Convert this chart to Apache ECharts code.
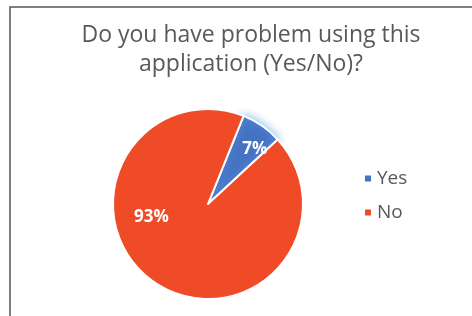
<!DOCTYPE html>
<html>
<head>
<meta charset="utf-8">
<script src="https://cdn.jsdelivr.net/npm/echarts@6/dist/echarts.min.js"></script>
<style>
  html, body { margin: 0; padding: 0; background: #fff; }
  #chart { width: 472px; height: 316px; }
</style>
</head>
<body>
<div id="chart"></div>
<script>
const titleText = 'Do you have problem using this\napplication (Yes/No)?'
const categories = ['Yes', 'No']
const values = [7, 93]
const colors = ['#4472C4', '#EF4B26']
// label nudges (Excel had the labels moved by hand)
const labelShift = [[18, -13], [-28, -28]]

const chart = echarts.init(document.getElementById('chart'))

const option = {
  backgroundColor: '#fff',
  title: {
    text: titleText,
    left: 246,
    top: 16,
    textAlign: 'center',
    textStyle: {
      fontFamily: 'Open Sans',
      fontWeight: 'normal',
      fontSize: 23,
      lineHeight: 29,
      color: '#595959'
    }
  },
  legend: {
    orient: 'vertical',
    left: 358,
    top: 164,
    itemWidth: 8,
    itemHeight: 8,
    itemGap: 15,
    icon: 'rect',
    data: categories,
    textStyle: {
      fontFamily: 'Open Sans',
      fontSize: 19,
      color: '#595959'
    }
  },
  graphic: [{
    type: 'rect',
    shape: { x: 10, y: 7, width: 500, height: 340 },
    style: { fill: 'none', stroke: '#555', lineWidth: 1.5 },
    silent: true
  }],
  series: [{
    type: 'pie',
    center: [208, 204],
    radius: 95,
    startAngle: 68,
    clockwise: true,
    avoidLabelOverlap: false,
    data: categories.map((name, i) => ({
      name,
      value: values[i],
      itemStyle: i === 0
        ? { color: colors[i], shadowBlur: 10, shadowColor: 'rgba(110,170,230,0.9)' }
        : { color: colors[i] }
    })),
    itemStyle: { borderColor: '#fff', borderWidth: 2 },
    label: {
      position: 'inside',
      formatter: '{c}%',
      color: '#fff',
      fontFamily: 'Open Sans',
      fontWeight: 'bold',
      fontSize: 17
    },
    labelLayout: (params) => ({
      dx: labelShift[params.dataIndex][0],
      dy: labelShift[params.dataIndex][1]
    }),
    labelLine: { show: false },
    emphasis: { disabled: true }
  }]
}

chart.setOption(option)
</script>
</body>
</html>
